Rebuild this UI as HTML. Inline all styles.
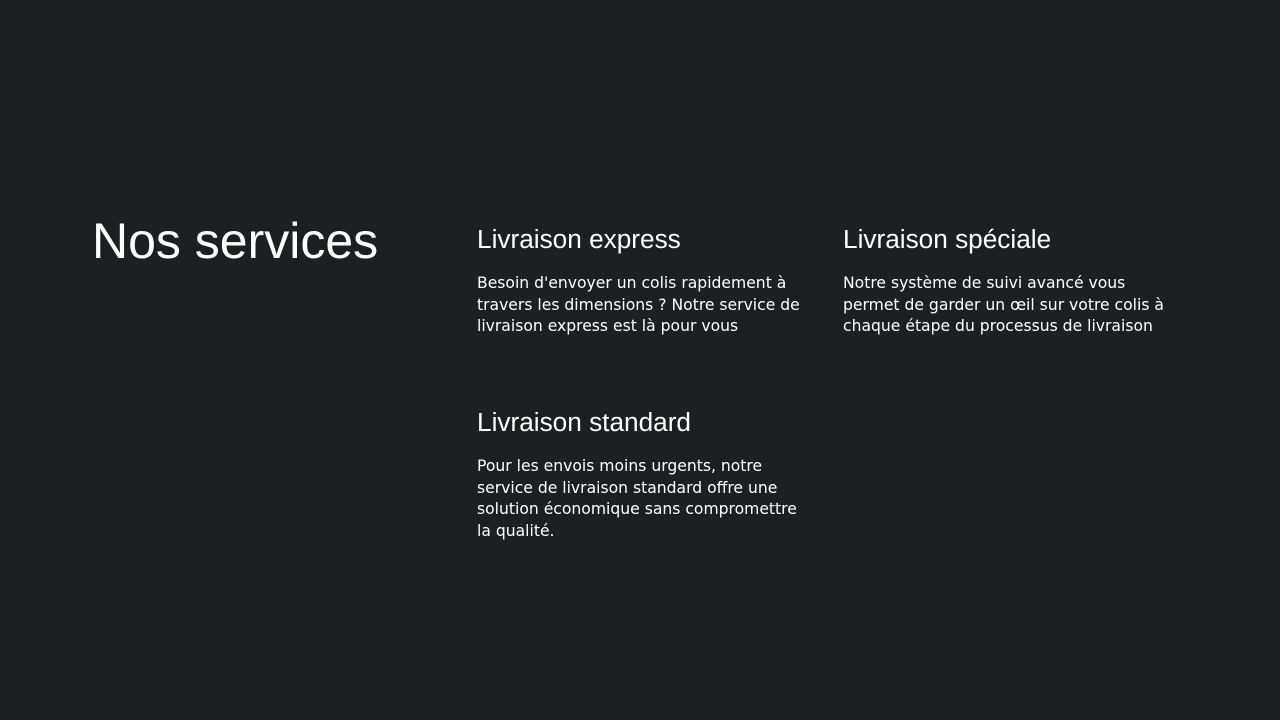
<!DOCTYPE html>
<html><head><meta charset="utf-8"><style>
body{margin:0;width:1280px;height:720px;background:#1d1f23;color:#fff;position:relative;overflow:hidden}
.t{position:absolute;left:92px;top:209px;font:50px/64px "Liberation Sans",sans-serif;margin:0;white-space:nowrap}
h3{position:absolute;margin:0;font:400 26.2px/32px "Liberation Sans",sans-serif;white-space:nowrap}
p{position:absolute;margin:0;font:15.6px/21.6px "DejaVu Sans",sans-serif;width:360px;white-space:nowrap}
</style></head><body>
<div class="t">Nos services</div>
<h3 style="left:477px;top:223px">Livraison express</h3>
<p style="left:477px;top:273px">Besoin d'envoyer un colis rapidement à<br>travers les dimensions ? Notre service de<br>livraison express est là pour vous</p>
<h3 style="left:843px;top:223px">Livraison spéciale</h3>
<p style="left:843px;top:273px">Notre système de suivi avancé vous<br>permet de garder un œil sur votre colis à<br>chaque étape du processus de livraison</p>
<h3 style="left:477px;top:406px">Livraison standard</h3>
<p style="left:477px;top:456px">Pour les envois moins urgents, notre<br>service de livraison standard offre une<br>solution économique sans compromettre<br>la qualité.</p>
</body></html>
